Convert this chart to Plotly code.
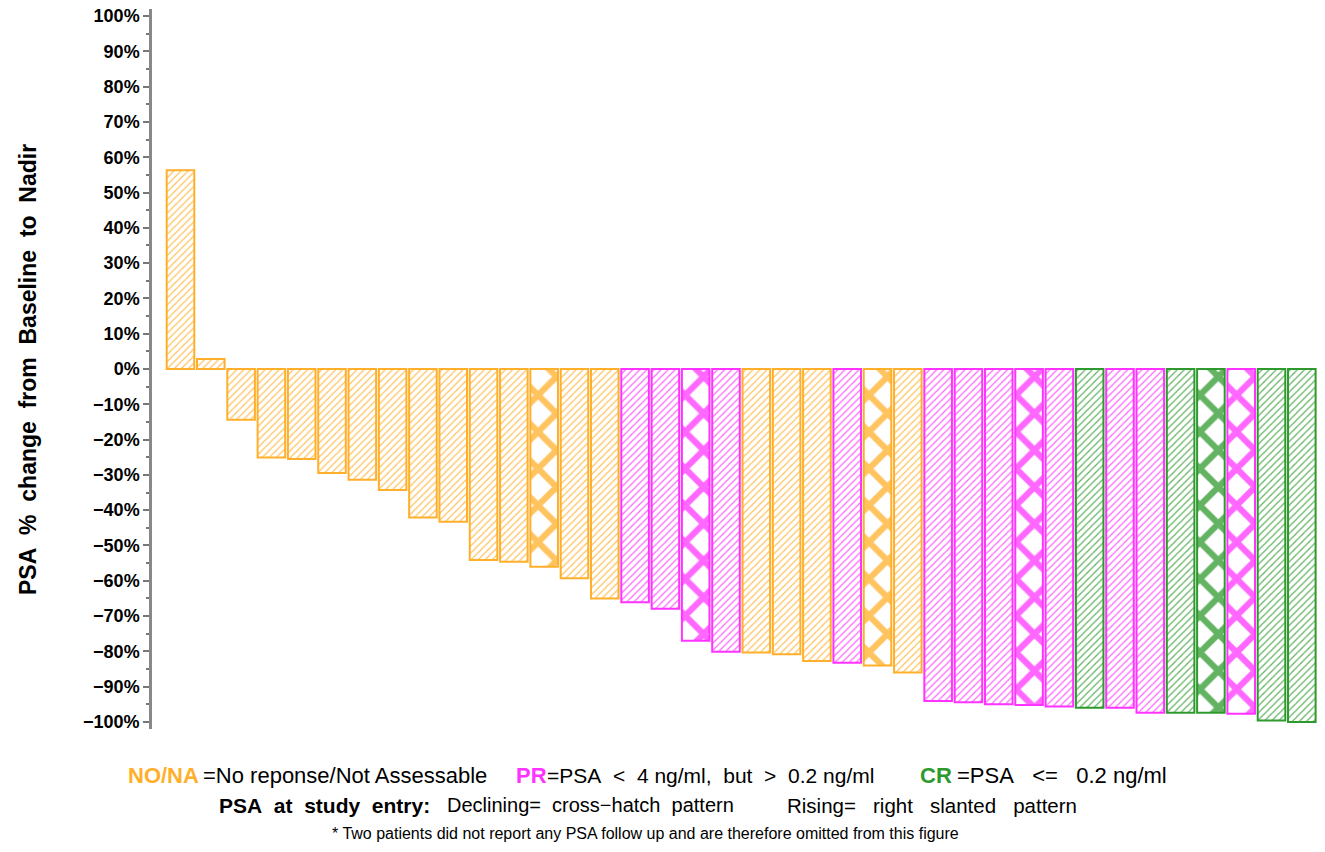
import plotly.graph_objects as go

# ---- data ----
patients = list(range(1, 39))
psa_change = [56.3, 2.8, -14.4, -25.1, -25.5, -29.5, -31.4, -34.3, -42.1, -43.3,
              -54.1, -54.6, -56.0, -59.3, -65.0, -66.1, -67.9, -77.0, -80.1, -80.3,
              -80.8, -82.7, -83.2, -84.0, -86.0, -94.1, -94.4, -95.0, -95.2, -95.6,
              -96.0, -96.0, -97.4, -97.4, -97.4, -97.7, -99.6, -100.0]
response = ["NO/NA"] * 15 + ["PR", "PR", "PR", "PR", "NO/NA", "NO/NA", "NO/NA", "PR", "NO/NA", "NO/NA",
            "PR", "PR", "PR", "PR", "PR", "CR", "PR", "PR", "CR", "CR", "PR", "CR", "CR"]
entry = ["Rising"] * 12 + ["Declining"] + ["Rising"] * 4 + ["Declining"] + ["Rising"] * 5 + \
        ["Declining"] + ["Rising"] * 4 + ["Declining"] + ["Rising"] * 5 + ["Declining", "Declining"] + ["Rising"] * 2

tick_vals = list(range(-100, 101, 10))
tick_text = [f"{v}%".replace("-", "\u2212") for v in tick_vals]

colors = {"NO/NA": "#FFAF2A", "PR": "#FF33FF", "CR": "#2E9A2E"}
shapes = {"Rising": "/", "Declining": "x"}
sizes = {"Rising": 5, "Declining": 26}
solid = {"Rising": 0.25, "Declining": 0.42}

bar_colors = [colors[r] for r in response]

fig = go.Figure()
fig.add_trace(go.Bar(
    x=patients, y=psa_change,
    marker=dict(
        color=bar_colors,
        line=dict(color=bar_colors, width=2),
        pattern=dict(
            shape=[shapes[e] for e in entry],
            size=[sizes[e] for e in entry],
            solidity=[solid[e] for e in entry],
            fgcolor=bar_colors,
            bgcolor="white",
            fgopacity=0.75,
            fillmode="replace",
        ),
    ),
    showlegend=False,
))

W, H = 1325, 852
L, R, T, B = 152, 5, 9, 123
pw, ph = W - L - R, H - T - B


def px(x):  # page pixel -> paper x
    return (x - L) / pw


def py(y):  # page pixel -> paper y
    return (T + ph - y) / ph


fig.update_layout(
    width=W, height=H,
    margin=dict(l=L, r=R, t=T, b=B, autoexpand=False),
    paper_bgcolor="white", plot_bgcolor="white",
    bargap=0.09,
    font=dict(family="Liberation Sans, Arial, sans-serif", color="black"),
    xaxis=dict(range=[0.06, 38.6], visible=False),
    yaxis=dict(
        range=[-102, 102], automargin=False,
        tickvals=tick_vals, ticktext=[f"<b>{t}</b>" for t in tick_text],
        tickfont=dict(size=18, color="black"),
        ticks="outside", ticklen=6, tickcolor="#777777", tickwidth=1.5,
        minor=dict(dtick=5, tick0=0, ticks="outside", ticklen=3, tickcolor="#777777"),
        showline=True, linecolor="#888888", linewidth=2.5,
        showgrid=False, zeroline=False,
    ),
)

ann = []


def add(text, x, y, size, color="black", bold=False):
    t = f"<b>{text}</b>" if bold else text
    ann.append(dict(text=t, x=px(x), y=py(y), xref="paper", yref="paper",
                    xanchor="left", yanchor="middle", showarrow=False,
                    font=dict(size=size, color=color)))


# y-axis title
ann.append(dict(text="<b>PSA\u00a0 %\u00a0 change\u00a0 from\u00a0 Baseline\u00a0 to\u00a0 Nadir</b>",
                x=px(28), y=py(370), xref="paper", yref="paper", textangle=-90,
                xanchor="center", yanchor="middle", showarrow=False,
                font=dict(size=23, color="black")))

y1, y2, y3 = 775, 805, 833
add("NO/NA", 126, y1, 22, colors["NO/NA"], True)
add("=No reponse/Not Assessable", 201, y1, 22)
add("PR", 514, y1, 22, colors["PR"], True)
add("=PSA\u00a0 &lt;\u00a0 4 ng/ml,\u00a0 but\u00a0 &gt;\u00a0 0.2 ng/ml", 545, y1, 21)
add("CR", 918, y1, 22, colors["CR"], True)
add("=PSA\u00a0\u00a0 &lt;=\u00a0\u00a0 0.2 ng/ml", 955, y1, 22)
add("PSA\u00a0 at\u00a0 study\u00a0 entry:", 217, y2, 21, bold=True)
add("Declining=\u00a0 cross\u2212hatch\u00a0 pattern", 445, y2, 20)
add("Rising=\u00a0\u00a0 right\u00a0\u00a0 slanted\u00a0\u00a0 pattern", 785, y2, 20.5)
add("* Two patients did not report any PSA follow up and are therefore omitted from this figure",
    330, y3, 16)

fig.update_layout(annotations=ann)
# remove the default 8px page margin so the figure fills the window exactly
fig.write_html("out.html", config={"displayModeBar": False},
               post_script="document.body.style.margin='0';")
